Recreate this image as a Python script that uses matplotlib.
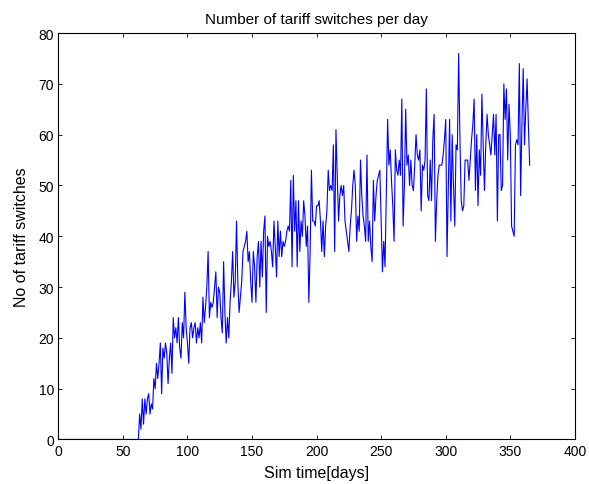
"""Number of tariff switches per day (MATLAB-style line plot)."""

import numpy as np
import matplotlib
matplotlib.use("Agg")
import matplotlib.pyplot as plt


# days 1-62: nothing happens yet
switches_quiet = [
    0, 0, 0, 0, 0, 0, 0, 0, 0, 0, 0, 0, 0, 0, 0, 0, 0, 0, 0, 0,
    0, 0, 0, 0, 0, 0, 0, 0, 0, 0, 0, 0, 0, 0, 0, 0, 0, 0, 0, 0,
    0, 0, 0, 0, 0, 0, 0, 0, 0, 0, 0, 0, 0, 0, 0, 0, 0, 0, 0, 0,
    0, 0,
]
# days 63-105
switches_ramp = [
    5, 2, 8, 3, 8, 5, 8, 9, 5, 7, 6, 12, 10, 15, 12, 15, 19, 9, 18, 16,
    19, 17, 11, 16, 19, 13, 24, 20, 22, 19, 24, 18, 16, 23, 20, 29, 22, 19, 15, 22,
    23, 20, 22,
]
# days 106-160
switches_early = [
    23, 19, 22, 20, 23, 19, 28, 23, 26, 30,
    37, 24, 27, 26, 27, 30, 33, 24, 30, 29, 24, 21, 35,
    25, 19, 24, 20, 27, 31, 37, 28, 31, 43,
    31, 25, 28, 31, 37, 38, 39, 41, 35, 37, 31, 27, 37, 34, 27, 36, 39, 30, 39, 32, 41,
    44,
]
# days 161-210
switches_mid = [
    25, 40, 38, 39, 37, 34, 43, 38, 32, 43, 36, 41, 36, 39, 38, 39, 41, 42, 41, 51,
    34, 52, 41, 47, 34, 47, 37, 43, 40, 47, 44, 38, 42, 27,
    37, 53, 43, 43, 42, 46, 46, 47, 43, 37, 43, 36, 42, 45, 53, 49,
]
# days 211-260
switches_late = [
    50, 49, 58, 37, 61, 52, 43, 48, 50, 48, 50, 43, 41, 39, 37, 42, 45, 50, 53, 50,
    39, 44, 41, 55, 48, 44, 42, 39, 56, 39, 43, 38, 35, 51, 43, 48, 51, 52, 53, 43,
    33, 39, 34, 48, 63, 54, 57, 51, 46, 39,
]
# days 261-309
switches_high = [
    57, 53, 52, 55, 52, 67, 42, 50, 65, 54, 56, 50, 55, 50, 49, 54, 60, 56, 55, 57,
    45, 54, 53, 55, 69, 48, 47, 55, 47, 59, 64, 39, 47, 52, 54, 54, 54, 56, 59, 63,
    36, 50, 63, 43, 60, 50, 42, 58, 57,
]
# days 310-365
switches_end = [
    76, 59, 47, 45, 46, 55, 55, 55, 51, 55, 59, 62, 67, 49, 60, 46, 57, 52, 68, 58,
    49, 58, 64, 60, 58, 56, 60, 64, 56, 64, 43, 60, 60, 49, 50, 70, 63, 69, 55, 66,
    60, 42, 41, 40, 58, 59, 58, 74, 48, 62, 73, 58, 65, 71, 62, 54,
]

counts = np.array(
    switches_quiet + switches_ramp + switches_early + switches_mid
    + switches_late + switches_high + switches_end,
    dtype=float,
)
days = np.arange(1, len(counts) + 1)

x_ticks = [0, 50, 100, 150, 200, 250, 300, 350, 400]
y_ticks = [0, 10, 20, 30, 40, 50, 60, 70, 80]

plt.rcParams["font.family"] = ["Liberation Sans", "DejaVu Sans"]
plt.rcParams["font.size"] = 10

fig = plt.figure(figsize=(5.89, 4.85), dpi=100)
ax = fig.add_axes([0.099, 0.0918, 0.877, 0.838])

ax.plot(days, counts, color=(0, 0, 1), lw=0.8)

ax.set_xlim(0, 400)
ax.set_ylim(0, 80)
ax.set_xticks(x_ticks)
ax.set_yticks(y_ticks)
ax.tick_params(direction="in", length=3, width=0.6, top=True, right=True,
               labelsize=10, pad=3, colors="black")
for sp in ax.spines.values():
    sp.set_linewidth(0.8)

ax.set_title("Number of tariff switches per day", fontsize=11, pad=7)
ax.set_xlabel("Sim time[days]", fontsize=11.5, labelpad=5)
ax.set_ylabel("No of tariff switches", fontsize=11.5, labelpad=7)

fig.savefig("out.png", dpi=100, facecolor="white")
